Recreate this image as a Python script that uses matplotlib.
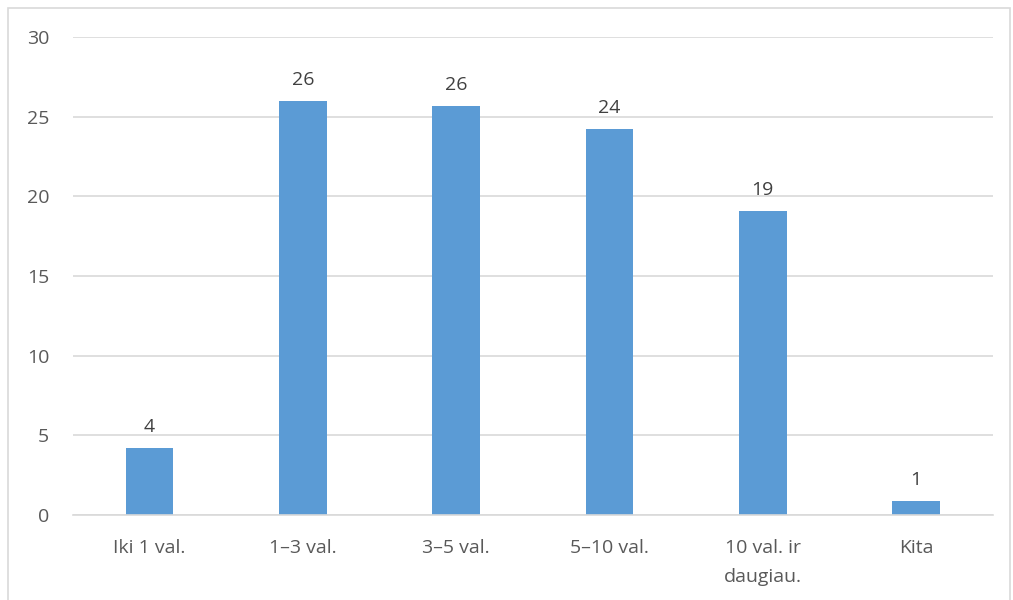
import matplotlib.pyplot as plt
from matplotlib.patches import Rectangle

categories = ["Iki 1 val.", "1–3 val.", "3–5 val.", "5–10 val.", "10 val. ir\ndaugiau.", "Kita"]
values = [4.2, 26.0, 25.7, 24.2, 19.1, 0.9]
labels = ["4", "26", "26", "24", "19", "1"]

plt.rcParams['font.family'] = ['Open Sans', 'DejaVu Sans']

fig = plt.figure(figsize=(10.13, 6.0), dpi=100)
ax = fig.add_axes([0.072, 0.1417, 0.908, 0.7966])

# light frame around the chart area
fig.patches.append(Rectangle((8 / 1013, -0.1), 1002 / 1013, 1.1 - 8 / 600,
                             transform=fig.transFigure, fill=False,
                             edgecolor="#d9d9d9", linewidth=1.2))

x = range(len(categories))
bars = ax.bar(x, values, width=0.31, color="#5b9bd5", zorder=2)
for bar, lab in zip(bars, labels):
    ax.text(bar.get_x() + bar.get_width() / 2, bar.get_height() + 0.75, lab,
            ha="center", va="bottom", fontsize=14, color="#404040")

ax.set_xlim(-0.5, len(categories) - 0.5)
ax.set_ylim(0, 30)
ax.set_yticks(range(0, 31, 5))
ax.yaxis.grid(True, color="#d9d9d9", linewidth=1.2, zorder=0)
ax.set_axisbelow(True)
ax.set_xticks(list(x))
ax.set_xticklabels(categories, va="top", linespacing=1.85)

for side in ["top", "right", "left"]:
    ax.spines[side].set_visible(False)
ax.spines["bottom"].set_color("#d9d9d9")
ax.spines["bottom"].set_linewidth(1.2)

ax.tick_params(axis="both", length=0, labelsize=14, labelcolor="#595959")
ax.tick_params(axis="y", pad=17)
ax.tick_params(axis="x", pad=17)

fig.savefig("out.png", dpi=100)
